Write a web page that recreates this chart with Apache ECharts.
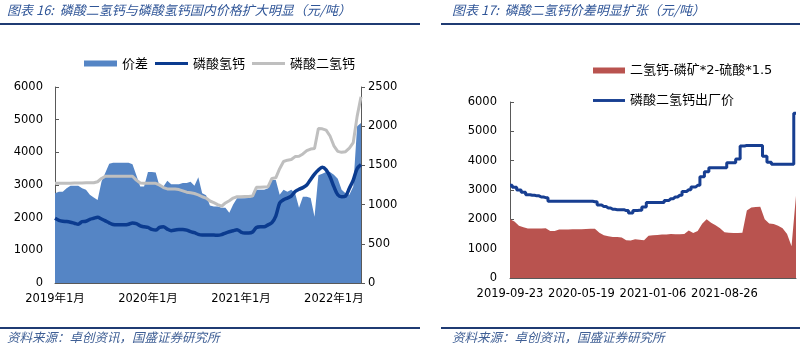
<!DOCTYPE html>
<html><head><meta charset="utf-8">
<script src="https://cdn.jsdelivr.net/npm/echarts@6/dist/echarts.min.js"></script>
<style>html,body{margin:0;padding:0;background:#fff}#c{width:800px;height:348px}</style>
</head><body><div id="c"></div>
<script>
// ---------- Left chart (图表16) ----------
const leftDates = [
'2019-01-01','2019-01-16','2019-02-01','2019-02-15','2019-03-01','2019-03-16','2019-04-01','2019-04-16','2019-05-01','2019-05-16','2019-06-01','2019-06-16',
'2019-07-01','2019-07-16','2019-08-01','2019-08-16','2019-09-01','2019-09-16','2019-10-01','2019-10-16','2019-11-01','2019-11-16','2019-12-01','2019-12-16',
'2020-01-01','2020-01-16','2020-02-01','2020-02-15','2020-03-01','2020-03-16','2020-04-01','2020-04-16','2020-05-01','2020-05-16','2020-06-01','2020-06-16',
'2020-07-01','2020-07-16','2020-08-01','2020-08-16','2020-09-01','2020-09-16','2020-10-01','2020-10-16','2020-11-01','2020-11-16','2020-12-01','2020-12-16',
'2021-01-01','2021-01-16','2021-02-01','2021-02-15','2021-03-01','2021-03-16','2021-04-01','2021-04-16','2021-05-01','2021-05-16','2021-06-01','2021-06-16',
'2021-07-01','2021-07-16','2021-08-01','2021-08-16','2021-09-01','2021-09-16','2021-10-01','2021-10-16','2021-11-01','2021-11-16','2021-12-01','2021-12-16',
'2022-01-01','2022-01-16','2022-02-01','2022-02-15','2022-03-01','2022-03-16','2022-04-01','2022-04-16'];
const leftTickLabels = ['2019年1月','2020年1月','2021年1月','2022年1月'];
// 价差 (right axis)
const spread = [1145,1165,1165,1210,1240,1240,1240,1210,1190,1125,
 1090,1060,1290,1405,1520,1535,1535,1535,1535,1535,
 1515,1375,1230,1230,1415,1415,1410,1230,1230,1305,
 1260,1260,1260,1275,1275,1290,1240,1350,1145,1120,
 990,975,975,960,960,895,1000,1080,1080,1080,
 1085,1100,1190,1190,1190,1210,1315,1315,1125,1190,
 1165,1190,1145,960,1100,1100,1085,845,1375,1395,
 1415,1415,1380,1330,1190,1145,1125,1230,2000,2040];
// 磷酸氢钙 (left axis)
const dcp = [1980,1920,1890,1880,1860,1830,1800,1880,1890,1950,
 1980,2010,1960,1900,1840,1790,1780,1780,1780,1800,
 1840,1820,1750,1720,1700,1640,1620,1700,1720,1650,
 1600,1620,1640,1640,1620,1570,1540,1490,1470,1470,
 1470,1470,1460,1480,1530,1570,1600,1630,1560,1530,
 1530,1560,1700,1720,1720,1780,1850,2050,2450,2550,
 2600,2660,2800,2870,2920,3000,3170,3330,3460,3540,
 3460,3250,2950,2700,2640,2660,2900,3150,3500,3620];
// 磷酸二氢钙 (left axis)
const mcp = [3050,3050,3050,3050,3050,3060,3060,3060,3070,3070,
 3070,3100,3200,3270,3270,3270,3270,3270,3270,3270,
 3270,3150,3060,3050,3050,3050,3050,3000,2920,2880,
 2880,2880,2860,2820,2780,2760,2740,2700,2640,2600,
 2510,2460,2400,2350,2450,2520,2600,2640,2640,2650,
 2650,2660,2930,2930,2940,2950,3200,3220,3500,3720,
 3760,3780,3870,3880,3950,4050,4100,4120,4730,4720,
 4680,4500,4200,4030,4000,4020,4130,4300,5100,5700];

// ---------- Right chart (图表17) ----------
const rightDates = ['2019-09-23','2019-10-08','2019-10-23','2019-11-07','2019-11-22','2019-12-06','2019-12-21','2020-01-05','2020-01-20','2020-02-04',
'2020-02-18','2020-03-04','2020-03-19','2020-04-03','2020-04-18','2020-05-03','2020-05-19','2020-06-02','2020-06-17','2020-07-01',
'2020-07-16','2020-07-30','2020-08-14','2020-08-28','2020-09-12','2020-09-27','2020-10-11','2020-10-26','2020-11-09','2020-11-24',
'2020-12-08','2020-12-22','2021-01-06','2021-01-20','2021-02-04','2021-02-18','2021-03-05','2021-03-19','2021-04-03','2021-04-17',
'2021-05-02','2021-05-16','2021-05-31','2021-06-14','2021-06-29','2021-07-13','2021-07-28','2021-08-11','2021-08-26','2021-09-09',
'2021-09-24','2021-10-08','2021-10-23','2021-11-06','2021-11-21','2021-12-05','2021-12-20','2022-01-03','2022-01-18','2022-02-01',
'2022-02-16','2022-03-02','2022-03-17','2022-03-31','2022-04-15'];
const margin = [2000,1930,1780,1730,1690,1690,1690,1690,1700,1600,
 1600,1650,1650,1650,1660,1660,1660,1670,1680,1680,
 1540,1460,1420,1400,1400,1380,1290,1280,1320,1300,
 1290,1440,1460,1470,1480,1480,1500,1490,1490,1500,
 1620,1530,1600,1850,2000,1880,1800,1700,1560,1540,
 1530,1530,1540,2300,2400,2420,2430,2000,1860,1840,
 1780,1700,1500,1080,2800];
const exFactory = [3160,3090,3000,2920,2840,2820,2800,2760,2740,2620,
 2615,2615,2615,2615,2615,2615,2615,2615,2615,2600,
 2490,2440,2390,2340,2330,2330,2300,2220,2300,2310,
 2420,2570,2570,2570,2570,2640,2700,2760,2820,2950,
 3010,3100,3160,3450,3620,3760,3760,3760,3760,3930,
 3930,4060,4500,4520,4520,4520,4520,4150,3950,3875,
 3875,3875,3875,3875,5620];

const latin = 'DejaVu Sans, "Noto Sans CJK SC", sans-serif';
const cjk = '"Noto Sans CJK SC", sans-serif';
const axisCol = '#595959';
const titleCol = '#2F5597';
const ruleCol = '#1F3B73';
const lineIcon = 'path://M0,0M0,1.5H33V4.5H0ZM33,6';

const chart = echarts.init(document.getElementById('c'), null, {renderer: 'canvas'});
const plain = v => String(v);
const yAxisBase = {
  type: 'value', splitLine: {show: false},
  axisLine: {show: true, lineStyle: {color: axisCol, width: 1}},
  axisTick: {show: true, inside: true, length: 4, lineStyle: {color: axisCol}},
  axisLabel: {color: '#000', fontSize: 11.5, fontFamily: latin, margin: 12, formatter: plain}
};
chart.setOption({
  animation: false,
  grid: [
    {left: 55, right: 439, top: 87, bottom: 65},
    {left: 510, right: 4, top: 102, bottom: 70}
  ],
  legend: [
    {left: 84, top: 57, padding: 0, itemWidth: 33, itemHeight: 6, itemGap: 7, orient: 'horizontal',
     textStyle: {fontSize: 13, fontFamily: cjk, color: '#000'},
     data: [{name: '价差', icon: 'rect'}, {name: '磷酸氢钙', icon: lineIcon}, {name: '磷酸二氢钙', icon: lineIcon}]},
    {left: 593, top: 64, padding: 0, itemWidth: 32, itemHeight: 6, itemGap: 17, orient: 'vertical',
     textStyle: {fontSize: 13, fontFamily: latin, color: '#000'},
     data: [{name: '二氢钙-磷矿*2-硫酸*1.5', icon: 'rect'}, {name: '磷酸二氢钙出厂价', icon: lineIcon}]}
  ],
  xAxis: [
    {type: 'category', gridIndex: 0, data: leftDates, boundaryGap: false,
     axisLine: {lineStyle: {color: axisCol}},
     axisTick: {interval: 23, inside: true, length: 4, lineStyle: {color: axisCol}},
     axisLabel: {interval: 23, margin: 10, color: '#000', fontSize: 11.5, fontFamily: latin,
       formatter: (v, i) => leftTickLabels[Math.round(i / 24)]}},
    {type: 'category', gridIndex: 1, data: rightDates, boundaryGap: false,
     axisLine: {lineStyle: {color: axisCol}},
     axisTick: {interval: 14, inside: true, length: 4, lineStyle: {color: axisCol}},
     axisLabel: {interval: (i) => i % 16 === 0 && i < 64, margin: 10, color: '#000', fontSize: 11.5, fontFamily: latin}}
  ],
  yAxis: [
    Object.assign({}, yAxisBase, {gridIndex: 0, min: 0, max: 6000, interval: 1000, position: 'left'}),
    Object.assign({}, yAxisBase, {gridIndex: 0, min: 0, max: 2500, interval: 500, position: 'right',
      axisTick: {show: true, inside: false, length: 4, lineStyle: {color: axisCol}},
      axisLabel: {color: '#000', fontSize: 11.5, fontFamily: latin, margin: 7, formatter: plain}}),
    Object.assign({}, yAxisBase, {gridIndex: 1, min: 0, max: 6000, interval: 1000, position: 'left',
      axisLabel: {color: '#000', fontSize: 11.5, fontFamily: latin, margin: 13, formatter: plain}})
  ],
  series: [
    {name: '价差', type: 'line', xAxisIndex: 0, yAxisIndex: 1, data: spread, symbol: 'none', z: 1,
     itemStyle: {color: '#5585C5'}, lineStyle: {width: 0, color: '#5585C5'}, areaStyle: {color: '#5585C5', opacity: 1}},
    {name: '磷酸二氢钙', type: 'line', xAxisIndex: 0, yAxisIndex: 0, data: mcp, symbol: 'none', z: 3,
     itemStyle: {color: '#BFBFBF'}, lineStyle: {width: 3, color: '#BFBFBF'}},
    {name: '磷酸氢钙', type: 'line', xAxisIndex: 0, yAxisIndex: 0, data: dcp, symbol: 'none', z: 4, smooth: 0.3,
     itemStyle: {color: '#0B3B8F'}, lineStyle: {width: 3.5, color: '#0B3B8F'}},
    {name: '二氢钙-磷矿*2-硫酸*1.5', type: 'line', xAxisIndex: 1, yAxisIndex: 2, data: margin, symbol: 'none', z: 1,
     itemStyle: {color: '#B9534F'}, lineStyle: {width: 0, color: '#B9534F'}, areaStyle: {color: '#B9534F', opacity: 1}},
    {name: '磷酸二氢钙出厂价', type: 'line', xAxisIndex: 1, yAxisIndex: 2, data: exFactory, symbol: 'none', z: 3, step: 'middle',
     itemStyle: {color: '#173E91'}, lineStyle: {width: 3, color: '#173E91'}}
  ],
  graphic: [
    {type: 'text', left: 7, top: 4, style: {text: '图表 16:  磷酸二氢钙与磷酸氢钙国内价格扩大明显（元/吨）', fill: titleCol, fontSize: 13, fontStyle: 'italic', fontFamily: cjk}},
    {type: 'text', left: 452, top: 4, style: {text: '图表 17:  磷酸二氢钙价差明显扩张（元/吨）', fill: titleCol, fontSize: 13, fontStyle: 'italic', fontFamily: cjk}},
    {type: 'rect', shape: {x: 0, y: 23, width: 420, height: 2}, style: {fill: ruleCol}},
    {type: 'rect', shape: {x: 441, y: 23, width: 359, height: 2}, style: {fill: ruleCol}},
    {type: 'rect', shape: {x: 0, y: 327, width: 420, height: 2}, style: {fill: ruleCol}},
    {type: 'rect', shape: {x: 441, y: 327, width: 359, height: 2}, style: {fill: ruleCol}},
    {type: 'text', left: 7, top: 331, style: {text: '资料来源：卓创资讯，国盛证券研究所', fill: '#3F5F95', fontSize: 12.5, fontStyle: 'italic', fontFamily: cjk}},
    {type: 'text', left: 452, top: 331, style: {text: '资料来源：卓创资讯，国盛证券研究所', fill: '#3F5F95', fontSize: 12.5, fontStyle: 'italic', fontFamily: cjk}}
  ]
});
</script></body></html>
